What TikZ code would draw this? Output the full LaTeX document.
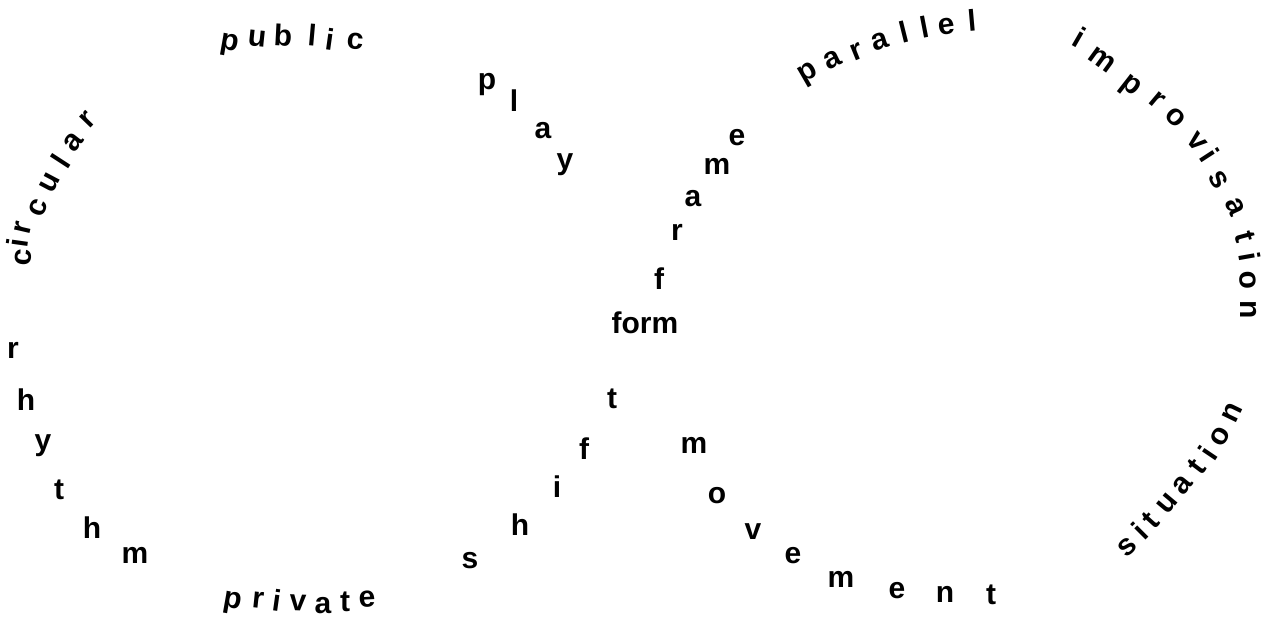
\documentclass[tikz,border=0pt]{standalone}
\usepackage{fontspec}
\setmainfont{Liberation Sans}
\tikzset{
  ltr/.style={inner sep=0pt, text height=7.8pt, text depth=0pt,
              font=\fontsize{15}{18}\selectfont\bfseries},
}

\begin{document}
\begin{tikzpicture}[x=0.5pt,y=-0.5pt]
  \useasboundingbox (0,0) rectangle (1271,619);
  % left loop
  \foreach \ch/\x/\y/\a [count=\i] in {p/230/42/-10, u/257/39/-6, b/283/38/-3,
      l/312/38/-5, i/330/42/-8, c/355/41/-5}
    \node[ltr, rotate=\a] (public\i) at (\x,\y) {\ch};
  \foreach \ch/\x/\y/\a [count=\i] in {c/23/258/85, i/20/243/82, r/23/228/77,
      c/38/208/68, u/50/183/62, l/63/163/57, a/73/142/52, r/88/120/46}
    \node[ltr, rotate=\a] (circular\i) at (\x,\y) {\ch};
  \foreach \ch/\x/\y [count=\i] in {r/13/351, h/26/403, y/43/443, t/59/492,
      h/92/531, m/135/556}
    \node[ltr] (rhythm\i) at (\x,\y) {\ch};
  \foreach \ch/\x/\y/\a [count=\i] in {p/233/600/-10, r/258/600/-6, i/277/603/-8,
      v/298/603/-2, a/323/606/0, t/345/604/0, e/367/599/3}
    \node[ltr, rotate=\a] (private\i) at (\x,\y) {\ch};
  % crossing
  \foreach \ch/\x/\y [count=\i] in {p/487/82, l/514/104, a/543/131, y/565/162}
    \node[ltr] (play\i) at (\x,\y) {\ch};
  \foreach \ch/\x/\y [count=\i] in {f/659/282, r/677/233, a/693/199, m/717/167,
      e/737/138}
    \node[ltr] (frame\i) at (\x,\y) {\ch};
  \node[ltr] (form) at (645,326) {form};
  \foreach \ch/\x/\y [count=\i] in {s/470/561, h/520/528, i/557/490, f/584/452,
      t/612/401}
    \node[ltr] (shift\i) at (\x,\y) {\ch};
  \foreach \ch/\x/\y [count=\i] in {m/694/446, o/717/496, v/753/532, e/793/556,
      m/841/580, e/897/591, n/945/595, t/991/597}
    \node[ltr] (movement\i) at (\x,\y) {\ch};
  % right loop
  \foreach \ch/\x/\y/\a [count=\i] in {p/808/72/30, a/833/60/26, r/857/52/22,
      a/880/42/18, l/905/35/14, l/925/30/11, e/947/27/8, l/972/23/5}
    \node[ltr, rotate=\a] (parallel\i) at (\x,\y) {\ch};
  \foreach \ch/\x/\y/\a [count=\i] in {i/1078/40/-30, m/1102/60/-36,
      p/1132/85/-38, r/1157/100/-40, o/1175/117/-45, v/1197/142/-50,
      i/1207/157/-57, s/1218/180/-60, a/1235/207/-65, t/1243/237/-75,
      i/1247/257/-80, o/1248/280/-87, n/1248/310/-90}
    \node[ltr, rotate=\a] (improvisation\i) at (\x,\y) {\ch};
  \foreach \ch/\x/\y/\a [count=\i] in {s/1127/547/42, i/1142/533/45,
      t/1152/522/48, u/1167/503/50, a/1183/485/51, t/1198/468/53,
      i/1210/455/56, o/1220/437/60, n/1232/413/64}
    \node[ltr, rotate=\a] (situation\i) at (\x,\y) {\ch};
\end{tikzpicture}
\end{document}
